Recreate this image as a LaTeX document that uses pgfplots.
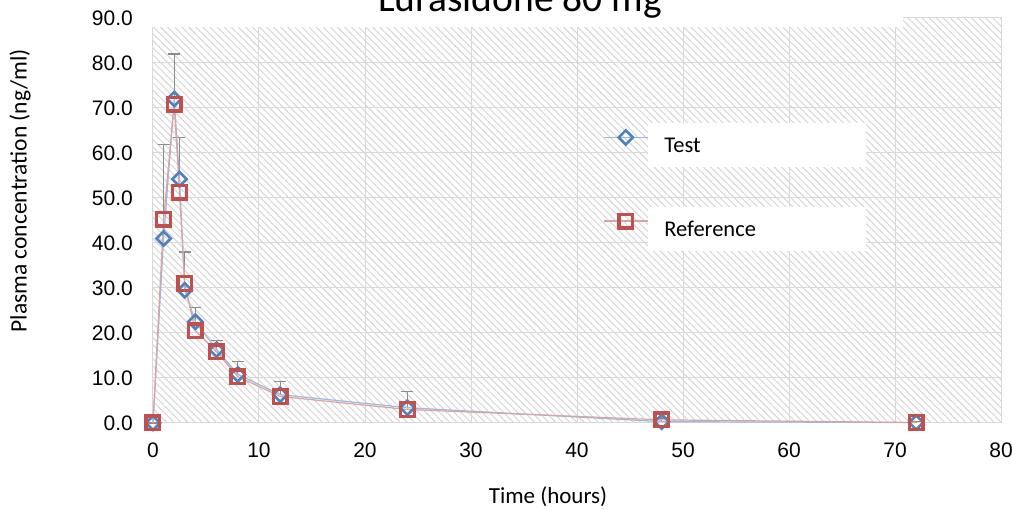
\documentclass[border=0pt]{standalone}
\usepackage{pgfplots}
\pgfplotsset{compat=1.18}
\usepackage{pgfplotstable}
\usetikzlibrary{patterns.meta}
\usepackage{fontspec}
\setmainfont{Carlito}
\newfontfamily\arialf{Liberation Sans}
\definecolor{gridc}{HTML}{D9D9D9}
\definecolor{hatchc}{HTML}{D8D8D8}
\definecolor{testblue}{HTML}{4F81BD}
\definecolor{testline}{HTML}{9DB9DD}
\definecolor{refred}{HTML}{C0504D}
\definecolor{refline}{HTML}{D8A5A5}
\definecolor{errgray}{HTML}{8C8C8C}
\newcommand\legbox[1]{{\setlength\fboxsep{0pt}\colorbox{white}{\parbox[c][44pt][c]{218pt}{\hspace*{16pt}#1}}}}

\pgfplotstableread{
t v e
0 0 0
1 41.0 20.8
2 72.0 10.0
2.5 54.2 9.3
3 29.5 8.5
4 22.5 3.2
6 16.3 2.1
8 10.8 2.8
12 6.3 3.0
24 3.4 3.6
48 0.3 0.8
72 0.1 0.3
}\testdata
\pgfplotstableread{
t v
0 0
1 45.3
2 70.8
2.5 51.3
3 31.0
4 20.5
6 15.8
8 10.3
12 5.9
24 3.0
48 0.7
72 0.1
}\refdata

\begin{document}
\begin{tikzpicture}
\useasboundingbox (-153pt,-87pt) rectangle (859pt,423pt);
\begin{axis}[
  at={(0pt,0pt)}, anchor=south west,
  scale only axis, width=848pt, height=405pt,
  xmin=0, xmax=80, ymin=0, ymax=90,
  xtick={0,10,...,80}, ytick={0,10,...,90},
  clip=false,
  axis background/.style={pattern={Lines[angle=-45,distance=5pt,line width=1.1pt]}, pattern color=hatchc},
  grid=major, major grid style={draw=gridc, line width=1pt},
  axis line style={draw=gridc, line width=1pt},
  major tick length=0pt,
  /pgf/number format/assume math mode=true,
  tick label style={font=\arialf\fontsize{21}{25}\selectfont, inner sep=0pt},
  yticklabel style={xshift=-20pt, /pgf/number format/.cd, fixed, fixed zerofill, precision=1},
  xticklabel style={yshift=-20pt},
  xlabel={Time (hours)},
  ylabel={Plasma concentration (ng/ml)},
  every axis x label/.style={at={(axis description cs:0.4658,-0.2)}, anchor=base, font=\fontsize{23}{27}\selectfont},
  every axis y label/.style={at={(axis description cs:-0.1568,0.573)}, rotate=90, anchor=center, font=\fontsize{23.5}{27}\selectfont},
  legend style={at={(axis cs:42.45,66.7)}, anchor=north west, draw=none, fill=none, inner sep=0pt, row sep=55pt, column sep=0pt, nodes={inner sep=0pt}, font=\fontsize{22.5}{27}\selectfont},
  legend cell align=left,
  legend image code/.code={\draw[mark repeat=2, mark phase=2, #1] plot coordinates {(0pt,0pt) (22pt,0pt) (44pt,0pt)};},
]
\addplot[draw=none, mark=none, forget plot,
  error bars/.cd, y dir=plus, y explicit,
  error bar style={draw=errgray, line width=1.2pt},
  error mark options={rotate=90, draw=errgray, mark size=6pt, line width=1.2pt}]
  table[x=t, y=v, y error plus=e] {\testdata};
\addplot[color=testline, line width=1.2pt, mark=square, mark size=5pt,
  mark options={rotate=45, draw=testblue, fill=white, line width=2.6pt, solid}]
  table[x=t, y=v] {\testdata};
\addlegendentry{\legbox{Test}}
\addplot[color=refline, line width=1.2pt, mark=square, mark size=6.8pt,
  mark options={draw=refred, fill=white, line width=3.4pt, solid}]
  table[x=t, y=v] {\refdata};
\addlegendentry{\legbox{Reference}}
\end{axis}
\fill[white] (-15pt,396pt) rectangle (750pt,440pt);
\node[anchor=base, font=\fontsize{39.5}{44}\selectfont, inner sep=0pt] at (367pt,411pt) {Lurasidone 80 mg};
\end{tikzpicture}
\end{document}
